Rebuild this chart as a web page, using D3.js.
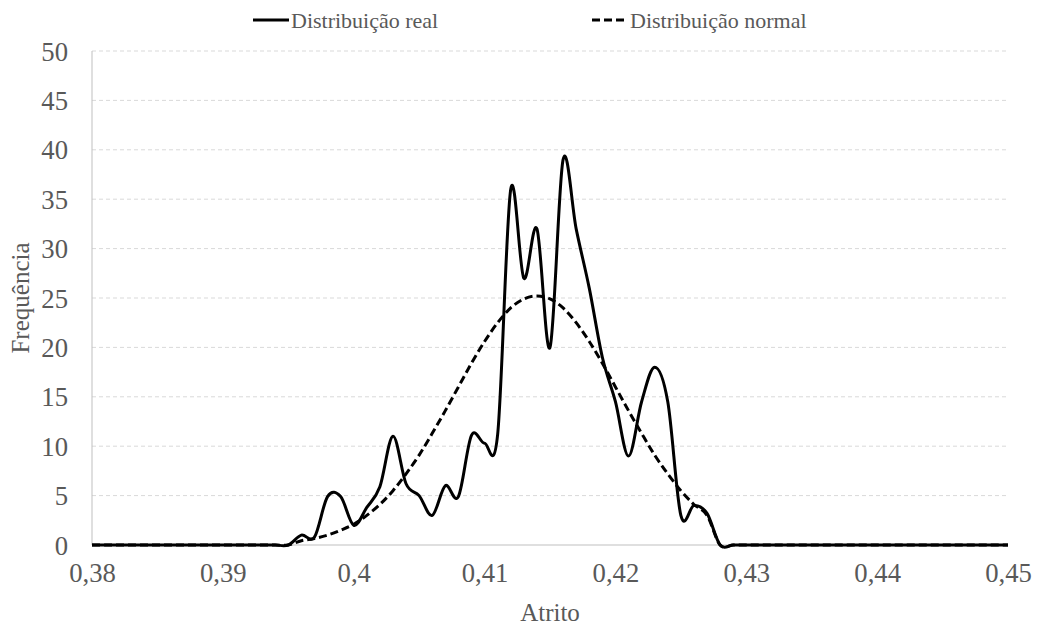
<!DOCTYPE html>
<html>
<head>
<meta charset="utf-8">
<script src="https://cdn.jsdelivr.net/npm/d3@7"></script>
<style>
    body { margin: 0; background: #ffffff; }
    text { font-family: "Liberation Serif", "Times New Roman", serif; fill: #595959; }
</style>
</head>
<body>
<div id="dist_plot"></div>
<script>
// Atrito (x) values
var atrito = [0.380, 0.381, 0.382, 0.383, 0.384, 0.385, 0.386, 0.387, 0.388, 0.389,
    0.390, 0.391, 0.392, 0.393, 0.394, 0.395, 0.396, 0.397, 0.398, 0.399,
    0.400, 0.401, 0.402, 0.403, 0.404, 0.405, 0.406, 0.407, 0.408, 0.409,
    0.410, 0.411, 0.412, 0.413, 0.414, 0.415, 0.416, 0.417, 0.418, 0.419,
    0.420, 0.421, 0.422, 0.423, 0.424, 0.425, 0.426, 0.427, 0.428, 0.429,
    0.430, 0.431, 0.432, 0.433, 0.434, 0.435, 0.436, 0.437, 0.438, 0.439,
    0.440, 0.441, 0.442, 0.443, 0.444, 0.445, 0.446, 0.447, 0.448, 0.449,
    0.450];

// Frequencia - distribuicao real
var real = [0, 0, 0, 0, 0, 0, 0, 0, 0, 0,
    0, 0, 0, 0, 0, 0, 1, 0.8, 4.9, 4.9,
    2, 3.8, 5.9, 11, 6.2, 5, 3, 6, 4.9, 11.1,
    10.3, 11.2, 36, 27, 32, 20, 39, 32, 26, 19,
    14.5, 9, 14.5, 18, 14.5, 3, 4, 3.2, 0, 0,
    0, 0, 0, 0, 0, 0, 0, 0, 0, 0,
    0, 0, 0, 0, 0, 0, 0, 0, 0, 0,
    0];

// Frequencia - distribuicao normal
var normal = [0, 0, 0, 0, 0, 0, 0, 0, 0, 0,
    0, 0, 0, 0, 0, 0, 0.43, 0.66, 1.0, 1.5,
    2.1, 3.0, 4.1, 5.5, 7.2, 9.1, 11.3, 13.6, 16.0, 18.4,
    20.6, 22.5, 24.0, 24.9, 25.2, 24.9, 24.0, 22.5, 20.6, 18.4,
    16.0, 13.6, 11.3, 9.1, 7.2, 5.5, 4.1, 3.0, 0, 0,
    0, 0, 0, 0, 0, 0, 0, 0, 0, 0,
    0, 0, 0, 0, 0, 0, 0, 0, 0, 0,
    0];

var xTicks = [0.38, 0.39, 0.40, 0.41, 0.42, 0.43, 0.44, 0.45];
var yTicks = [0, 5, 10, 15, 20, 25, 30, 35, 40, 45, 50];
var seriesNames = ["Distribuição real", "Distribuição normal"];

var margin = { top: 51, right: 30, bottom: 85, left: 92 },
    width = 1038 - margin.left - margin.right,
    height = 630 - margin.top - margin.bottom;

// append the svg object to the body of the page
var root = d3.select("#dist_plot")
    .append("svg")
    .attr("width", 1038)
    .attr("height", 630);

var svg = root.append("g")
    .attr("transform", "translate(" + margin.left + "," + margin.top + ")");

// Scales
var x = d3.scaleLinear()
    .domain([0.38, 0.45])
    .range([0, width]);

var y = d3.scaleLinear()
    .domain([0, 50])
    .range([height, 0]);

// Gridlines (dashed)
svg.selectAll("grid")
    .data(yTicks.filter(function (d) { return d > 0; }))
    .enter()
    .append("line")
    .attr("x1", 0)
    .attr("x2", width)
    .attr("y1", function (d) { return y(d); })
    .attr("y2", function (d) { return y(d); })
    .style("stroke", "#d9d9d9")
    .style("stroke-width", 1)
    .style("stroke-dasharray", "4,3");

// Axis lines
svg.append("line")
    .attr("x1", 0).attr("x2", 0)
    .attr("y1", 0).attr("y2", height)
    .style("stroke", "#bfbfbf")
    .style("stroke-width", 1);
svg.append("line")
    .attr("x1", 0).attr("x2", width)
    .attr("y1", height).attr("y2", height)
    .style("stroke", "#bfbfbf")
    .style("stroke-width", 1);

// Y axis
var yAxis = svg.append("g")
    .call(d3.axisLeft(y).tickValues(yTicks).tickSize(0).tickPadding(24));
yAxis.select(".domain").remove();
yAxis.selectAll("text")
    .style("font-family", "Liberation Serif")
    .style("font-size", "26.7px")
    .style("fill", "#595959")
    .attr("dy", "0.34em");

// X axis
var xAxis = svg.append("g")
    .attr("transform", "translate(0," + height + ")")
    .call(d3.axisBottom(x).tickValues(xTicks).tickSize(0).tickPadding(18)
        .tickFormat(function (d) { return d3.format("")(+d.toFixed(2)).replace(".", ","); }));
xAxis.select(".domain").remove();
xAxis.selectAll("text")
    .style("font-family", "Liberation Serif")
    .style("font-size", "26.7px")
    .style("fill", "#595959");

// Axis titles
svg.append("text")
    .attr("text-anchor", "middle")
    .attr("x", width / 2)
    .attr("y", height + 76)
    .style("font-size", "25px")
    .text("Atrito");

svg.append("text")
    .attr("text-anchor", "middle")
    .attr("transform", "rotate(-90)")
    .attr("x", -height / 2)
    .attr("y", -margin.left + 29)
    .style("font-size", "25px")
    .text("Frequência");

// Lines
var line = d3.line()
    .x(function (d) { return x(d[0]); })
    .y(function (d) { return y(d[1]); })
    .curve(d3.curveCardinal);

svg.append("path")
    .datum(atrito.map(function (a, i) { return [a, real[i]]; }))
    .attr("fill", "none")
    .attr("stroke", "#000000")
    .attr("stroke-width", 3)
    .attr("d", line);

svg.append("path")
    .datum(atrito.map(function (a, i) { return [a, normal[i]]; }))
    .attr("fill", "none")
    .attr("stroke", "#000000")
    .attr("stroke-width", 3)
    .attr("stroke-dasharray", "8,4")
    .attr("d", line);

// Legend
var legendX = [253, 592];
var legend = root.selectAll("legend")
    .data(seriesNames)
    .enter()
    .append("g")
    .attr("transform", function (d, i) { return "translate(" + legendX[i] + ",20)"; });

legend.append("line")
    .attr("x1", 0).attr("x2", 36)
    .attr("y1", 0).attr("y2", 0)
    .attr("stroke", "#000000")
    .attr("stroke-width", 3)
    .attr("stroke-dasharray", function (d, i) { return i === 1 ? "8,4" : null; });

legend.append("text")
    .attr("x", 38)
    .attr("y", 0)
    .attr("dy", "0.35em")
    .style("font-size", "22px")
    .text(function (d) { return d; });
</script>
</body>
</html>
